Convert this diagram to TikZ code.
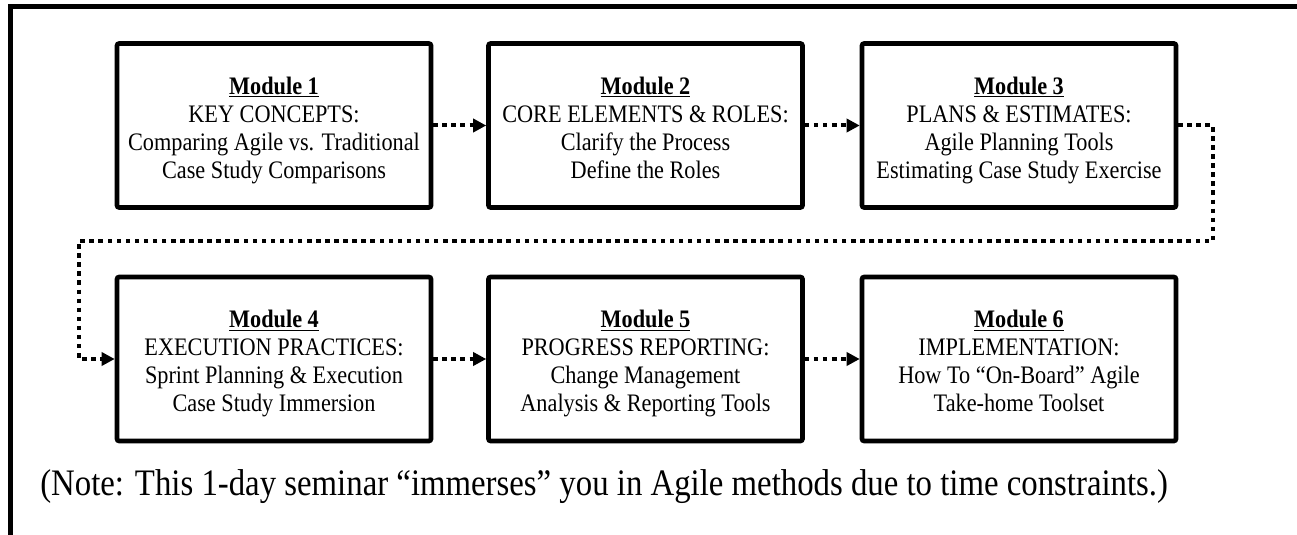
\documentclass[tikz,border=0pt]{standalone}
\usepackage{fontspec}
\setmainfont{Liberation Serif}
\usetikzlibrary{arrows.meta}
\newcommand{\modtext}[4]{\raisebox{-3.75pt}[\height][\depth]{\scalebox{1}[1.13]{\fontsize{16.7}{18.6}\selectfont\begin{tabular}{@{}c@{}}\underline{\textbf{#1}}\\#2\\#3\\#4\end{tabular}}}}
\begin{document}
\begin{tikzpicture}[x=0.75pt,y=-0.75pt,
  modbox/.style={draw=black,line width=3.4pt,rounded corners=1.5pt,minimum width=235.5pt,minimum height=123pt,inner sep=0pt,align=center},
  flow/.style={line width=3pt,dash pattern=on 3.4pt off 3.4pt,-{Triangle[length=9.75pt,width=9.75pt]}},
  frameline/.style={line width=3.4pt}]
\useasboundingbox (0,0) rectangle (1297,535);
\draw[frameline] (10.5,535) -- (10.5,6.5) -- (1297,6.5);
\node[modbox] (m1) at (274,125.5) {\modtext{Module 1}{KEY CONCEPTS:}{Comparing Agile vs. Traditional}{Case Study Comparisons}};
\node[modbox] (m2) at (645.5,125.5) {\modtext{Module 2}{CORE ELEMENTS \& ROLES:}{Clarify the Process}{Define the Roles}};
\node[modbox] (m3) at (1019,125.5) {\modtext{Module 3}{PLANS \& ESTIMATES:}{Agile Planning Tools}{Estimating Case Study Exercise}};
\node[modbox] (m4) at (274,359) {\modtext{Module 4}{EXECUTION PRACTICES:}{Sprint Planning \& Execution}{Case Study Immersion}};
\node[modbox] (m5) at (645.5,359) {\modtext{Module 5}{PROGRESS REPORTING:}{Change Management}{Analysis \& Reporting Tools}};
\node[modbox] (m6) at (1019,359) {\modtext{Module 6}{IMPLEMENTATION:}{How To “On-Board” Agile}{Take-home Toolset}};
\coordinate (c1) at (1213,125.5);
\coordinate (c2) at (1213,241);
\coordinate (c3) at (79,241);
\coordinate (c4) at (79,359);
\draw[flow] (m1.east) -- (m2.west);
\draw[flow] (m2.east) -- (m3.west);
\draw[flow] (m3.east) -- (c1) -- (c2) -- (c3) -- (c4) -- (m4.west);
\draw[flow] (m4.east) -- (m5.west);
\draw[flow] (m5.east) -- (m6.west);
\node[anchor=base west,inner sep=0pt] (note) at (40,495) {\scalebox{1}[1.14]{\fontsize{24.6}{30}\selectfont (Note: This 1-day seminar “immerses” you in Agile methods due to time constraints.)}};
\end{tikzpicture}
\end{document}
